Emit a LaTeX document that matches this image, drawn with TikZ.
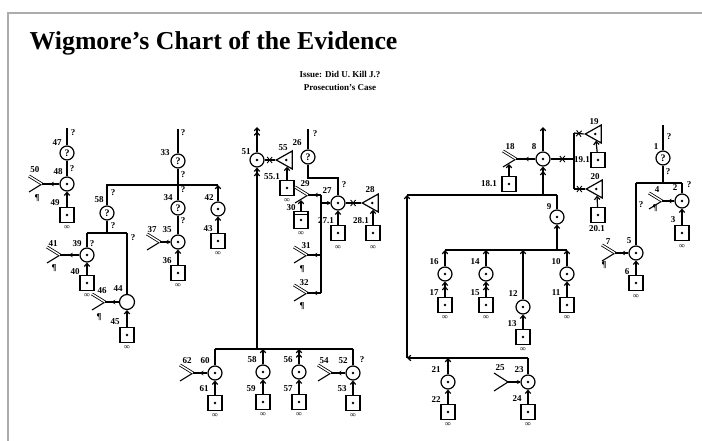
\documentclass[tikz,border=0pt]{standalone}
\usepackage{fontspec}
\setmainfont{Liberation Serif}
\usetikzlibrary{arrows.meta,shapes.geometric,decorations.markings}
\tikzset{
  fork/.pic={\draw[line width=1.1pt] (0,0) -- (-13,8);
             \draw[line width=0.8pt, double distance=1.4pt] (0,0) -- (-13,-8);},
  forkone/.pic={\draw[line width=1.1pt] (0,0) -- (-14,9); \draw[line width=1.1pt] (0,0) -- (-14,-9);},
}
\begin{document}
\begin{tikzpicture}[x=1pt,y=-1pt,line width=1.2pt,
  lab/.style={font=\fontsize{9}{9}\selectfont\bfseries, inner sep=0pt},
  inf/.style={font=\fontsize{8}{8}\selectfont\bfseries, inner sep=0pt},
  pil/.style={font=\fontsize{9}{9}\selectfont\bfseries, inner sep=0pt},
  dc/.style={circle, draw, minimum size=14pt, inner sep=0pt,
    path picture={\fill (path picture bounding box.center) circle[radius=1.4pt];}},
  qc/.style={circle, draw, minimum size=14pt, inner sep=0pt, font=\fontsize{10}{10}\selectfont\bfseries},
  ec/.style={circle, draw, minimum size=15pt, inner sep=0pt},
  sq/.style={rectangle, draw, minimum width=14pt, minimum height=15pt, inner sep=0pt,
    path picture={\fill (path picture bounding box.center) circle[radius=1.4pt];}},
  sqd/.style={rectangle, draw, minimum width=14pt, minimum height=17pt, inner sep=0pt,
    path picture={\fill (path picture bounding box.center) circle[radius=1.4pt];
      \draw ([yshift=-3pt]path picture bounding box.north west) -- ([yshift=-3pt]path picture bounding box.north east);}},
  tri/.style={isosceles triangle, shape border rotate=180, isosceles triangle stretches, draw,
    minimum height=16pt, minimum width=18pt, inner sep=0pt,
    path picture={\fill ([xshift=2pt]path picture bounding box.center) circle[radius=1.4pt];}},
  ar/.style={-{Straight Barb[length=3pt,width=5.5pt]}},
  dar/.style={-{Straight Barb[length=3pt,width=5.5pt]Straight Barb[length=3pt,width=5.5pt]}},
  mid/.style={decoration={markings,mark=at position 0.55 with {\arrow{Stealth[length=4pt,width=4.5pt]}}},postaction={decorate}},
  tipstart/.style={decoration={markings,mark=at position 6pt with {\arrow{Latex[length=4pt,width=4.5pt]}}},postaction={decorate}},
  cross/.style={decoration={markings,mark=at position 0.5 with {\draw[line width=0.9pt] (-2.5pt,-3pt)--(2.5pt,3pt) (-2.5pt,3pt)--(2.5pt,-3pt);}},postaction={decorate}},
]
\useasboundingbox (0,0) rectangle (702,441);
% frame
\coordinate (fr1) at (8,441); \coordinate (fr2) at (8,13); \coordinate (fr3) at (702,13);
\draw[gray!65, line width=1.4pt] (fr1) -- (fr2) -- (fr3);
% titles
\node[anchor=base west, font=\fontsize{25.8}{26}\selectfont\bfseries, inner sep=0pt] (title) at (29,50) {Wigmore’s Chart of the Evidence};
\node[font=\fontsize{9}{9}\selectfont\bfseries, inner sep=0pt] (sub1) at (340,74) {Issue: Did U. Kill J.?};
\node[font=\fontsize{9}{9}\selectfont\bfseries, inner sep=0pt] (sub2) at (340,87) {Prosecution’s Case};

% ===== 47-50
\node[qc] (c47) at (67,153) {?};
\coordinate (t47) at (67,128);
\draw (c47) -- (t47);
\node[dc] (c48) at (67,184) {};
\draw (c47) -- (c48);
\node[sq] (s49) at (67,215) {};
\draw[ar] (s49) -- (c48);
\coordinate (f50) at (42,184); \pic at (f50) {fork};
\draw[mid] (c48) -- (f50);
\node[lab] (l47) at (57,143) {47};
\node[lab] (q47) at (73,133) {?};
\node[lab] (q48) at (72,169) {?};
\node[lab] (l48) at (58,172) {48};
\node[lab] (l50) at (35,170) {50};
\node[pil] (p50) at (37,198) {¶};
\node[lab] (l49) at (55,203) {49};
\node[inf] (i49) at (67,228) {∞};

% ===== 58 / 39-46
\node[qc] (c58) at (107,213) {?};
\coordinate (b1l) at (107,185); \coordinate (b1r) at (218,185); \coordinate (b1m) at (178,185);
\draw (c58) -- (b1l) -- (b1r);
\coordinate (b2m) at (107,233); \coordinate (b2l) at (87,233); \coordinate (b2r) at (127,233);
\draw (c58) -- (b2m); \draw (b2l) -- (b2r);
\node[dc] (c39) at (87,255) {}; \draw (b2l) -- (c39);
\node[sq] (s40) at (87,283) {}; \draw[ar] (s40) -- (c39);
\coordinate (f41) at (60,255); \pic at (f41) {fork}; \draw[mid] (c39) -- (f41);
\node[ec] (c44) at (127,302) {}; \draw (b2r) -- (c44);
\node[sq] (s45) at (127,335) {}; \draw[ar] (s45) -- (c44);
\coordinate (f46) at (105,302); \pic at (f46) {fork}; \draw[mid] (c44) -- (f46);
\node[lab] (l58) at (99,200) {58};
\node[lab] (q58a) at (113,193) {?};
\node[lab] (q58b) at (113,226) {?};
\node[lab] (l39) at (77,244) {39};
\node[lab] (q39) at (92,244) {?};
\node[lab] (q44) at (133,238) {?};
\node[lab] (l41) at (53,244) {41};
\node[pil] (p41) at (54,268) {¶};
\node[lab] (l40) at (75,272) {40};
\node[inf] (i40) at (87,296) {∞};
\node[lab] (l44) at (118,289) {44};
\node[lab] (l46) at (102,291) {46};
\node[pil] (p46) at (99,317) {¶};
\node[lab] (l45) at (115,322) {45};
\node[inf] (i45) at (127,348) {∞};

% ===== 33-37, 42-43
\node[qc] (c33) at (178,161) {?}; \coordinate (t33) at (178,129);
\draw (c33) -- (t33); \draw (c33) -- (b1m);
\node[qc] (c34) at (178,208) {?}; \draw (b1m) -- (c34);
\node[dc] (c35) at (178,242) {}; \draw (c34) -- (c35);
\node[sq] (s36) at (178,273) {}; \draw[ar] (s36) -- (c35);
\coordinate (f37) at (160,242); \pic at (f37) {fork}; \draw[mid] (c35) -- (f37);
\node[dc] (c42) at (218,209) {}; \draw[ar] (c42) -- (b1r);
\node[sq] (s43) at (218,241) {}; \draw[ar] (s43) -- (c42);
\node[lab] (l33) at (165,153) {33};
\node[lab] (q33a) at (183,133) {?};
\node[lab] (q33b) at (183,175) {?};
\node[lab] (q34a) at (183,190) {?};
\node[lab] (l34) at (168,198) {34};
\node[lab] (q34b) at (183,221) {?};
\node[lab] (l35) at (167,230) {35};
\node[lab] (l37) at (152,230) {37};
\node[lab] (l36) at (167,261) {36};
\node[inf] (i36) at (178,286) {∞};
\node[lab] (l42) at (209,198) {42};
\node[lab] (l43) at (208,229) {43};
\node[inf] (i43) at (218,254) {∞};

% ===== 51, 55
\node[dc] (c51) at (257,160) {}; \coordinate (t51) at (257,127);
\draw[dar] (c51) -- (t51);
\coordinate (b3m) at (257,349);
\draw[dar] (b3m) -- (c51);
\node[tri] (t55) at (287,160) {};
\draw[cross] (t55.apex) -- (c51);
\node[sq] (s551) at (287,188) {};
\draw[ar] (s551) -- (t55.south);
\node[lab] (l51) at (246,152) {51};
\node[lab] (l55) at (283,148) {55};
\node[lab] (l551) at (272,177) {55.1};
\node[inf] (i551) at (287,201) {∞};

% ===== 26-32
\node[qc] (c26) at (308,157) {?}; \coordinate (t26) at (308,129);
\draw (c26) -- (t26);
\coordinate (k1) at (308,178); \coordinate (k2) at (338,178);
\node[dc] (c27) at (338,203) {};
\draw (c26) -- (k1) -- (k2) -- (c27);
\coordinate (v1) at (321,195); \coordinate (v2) at (321,203); \coordinate (v3) at (321,255); \coordinate (v4) at (321,293);
\draw (v1) -- (v4);
\draw[tipstart] (c27) -- (v2);
\coordinate (f29) at (308,195); \pic at (f29) {fork}; \draw[mid] (v1) -- (f29);
\node[tri] (t28) at (373,203) {};
\draw[cross] (t28.apex) -- (c27);
\node[sq] (s271) at (338,233) {}; \draw[ar] (s271) -- (c27);
\node[sq] (s281) at (373,233) {}; \draw[ar] (s281) -- (t28.south);
\node[sqd] (s30) at (301,220) {}; \coordinate (a30) at (301,200);
\draw[ar] (s30) -- (a30);
\coordinate (f31) at (307,255); \pic at (f31) {fork}; \draw[mid] (v3) -- (f31);
\coordinate (f32) at (307,293); \pic at (f32) {fork}; \draw[mid] (v4) -- (f32);
\node[lab] (l26) at (297,143) {26};
\node[lab] (q26a) at (315,134) {?};
\node[lab] (q26b) at (344,185) {?};
\node[lab] (l27) at (327,191) {27};
\node[lab] (l29) at (305,184) {29};
\node[lab] (l28) at (370,190) {28};
\node[lab] (l271) at (326,221) {27.1};
\node[inf] (i271) at (338,248) {∞};
\node[lab] (l281) at (361,221) {28.1};
\node[inf] (i281) at (373,248) {∞};
\node[lab] (l30) at (291,208) {30};
\node[inf] (i30) at (301,234) {∞};
\node[lab] (l31) at (306,246) {31};
\node[pil] (p31) at (302,269) {¶};
\node[lab] (l32) at (304,283) {32};
\node[pil] (p32) at (302,306) {¶};

% ===== 52-62 bottom
\coordinate (b3l) at (215,349); \coordinate (b3r) at (353,349);
\coordinate (b358) at (263,349); \coordinate (b356) at (299,349);
\draw (b3l) -- (b3r);
\node[dc] (c60) at (215,373) {}; \draw (c60) -- (b3l);
\coordinate (f62) at (193,373); \pic at (f62) {fork}; \draw[mid] (c60) -- (f62);
\node[sq] (s61) at (215,403) {}; \draw[ar] (s61) -- (c60);
\node[dc] (c58b) at (263,372) {}; \draw[ar] (c58b) -- (b358);
\node[sq] (s59) at (263,402) {}; \draw[ar] (s59) -- (c58b);
\node[dc] (c56) at (299,372) {}; \draw[dar] (c56) -- (b356);
\node[sq] (s57) at (299,402) {}; \draw[ar] (s57) -- (c56);
\node[dc] (c52) at (353,373) {}; \draw (c52) -- (b3r);
\coordinate (f54) at (331,373); \pic at (f54) {fork}; \draw[mid] (c52) -- (f54);
\node[sq] (s53) at (353,403) {}; \draw[ar] (s53) -- (c52);
\node[lab] (l60) at (205,361) {60};
\node[lab] (l62) at (187,361) {62};
\node[lab] (l61) at (204,389) {61};
\node[inf] (i61) at (215,416) {∞};
\node[lab] (l58b) at (252,360) {58};
\node[lab] (l59) at (251,389) {59};
\node[inf] (i59) at (263,415) {∞};
\node[lab] (l56) at (288,360) {56};
\node[lab] (l57) at (288,389) {57};
\node[inf] (i57) at (299,415) {∞};
\node[lab] (l52) at (343,361) {52};
\node[lab] (q52) at (362,360) {?};
\node[lab] (l54) at (324,361) {54};
\node[lab] (l53) at (342,389) {53};
\node[inf] (i53) at (353,416) {∞};

% ===== 8-25
\node[dc] (c8) at (543,159) {}; \coordinate (t8) at (543,127);
\draw[ar] (c8) -- (t8);
\coordinate (f18) at (516,159); \pic at (f18) {fork}; \draw[mid] (c8) -- (f18);
\node[sq] (s181) at (509,184) {}; \coordinate (a181) at (509,164);
\draw[ar] (s181) -- (a181);
\coordinate (b4l) at (407,195); \coordinate (b4r) at (557,195); \coordinate (b48) at (543,195);
\draw (b4l) -- (b4r);
\draw[dar] (b48) -- (c8);
\node[dc] (c9) at (557,217) {}; \draw (c9) -- (b4r);
\coordinate (b5l) at (445,250); \coordinate (b5r) at (567,250);
\coordinate (b59) at (557,250); \coordinate (b514) at (486,250); \coordinate (b512) at (523,250);
\draw (b5l) -- (b5r);
\draw[ar] (b59) -- (c9);
\node[dc] (c16) at (445,274) {}; \draw[ar] (c16) -- (b5l);
\node[sq] (s17) at (445,305) {}; \draw[dar] (s17) -- (c16);
\node[dc] (c14) at (486,274) {}; \draw[ar] (c14) -- (b514);
\node[sq] (s15) at (486,305) {}; \draw[dar] (s15) -- (c14);
\node[dc] (c12) at (523,307) {}; \draw[ar] (c12) -- (b512);
\node[sq] (s13) at (523,337) {}; \draw[ar] (s13) -- (c12);
\node[dc] (c10) at (567,274) {}; \draw[ar] (c10) -- (b5r);
\node[sq] (s11) at (567,305) {}; \draw[ar] (s11) -- (c10);
\coordinate (b6l) at (407,358); \coordinate (b6r) at (528,358); \coordinate (b621) at (448,358);
\draw[ar] (b6r) -- (b6l);
\draw[ar] (b6l) -- (b4l);
\node[dc] (c21) at (448,382) {}; \draw[ar] (c21) -- (b621);
\node[sq] (s22) at (448,412) {}; \draw[ar] (s22) -- (c21);
\node[dc] (c23) at (528,382) {}; \draw (c23) -- (b6r);
\node[sq] (s24) at (528,412) {}; \draw[ar] (s24) -- (c23);
\coordinate (f25) at (508,382); \pic at (f25) {forkone}; \draw[tipstart] (c23) -- (f25);
\node[lab] (l8) at (534,147) {8};
\node[lab] (l18) at (510,147) {18};
\node[lab] (l181) at (489,184) {18.1};
\node[lab] (l9) at (549,207) {9};
\node[lab] (l16) at (434,262) {16};
\node[lab] (l17) at (434,293) {17};
\node[inf] (i17) at (445,318) {∞};
\node[lab] (l14) at (475,262) {14};
\node[lab] (l15) at (475,293) {15};
\node[inf] (i15) at (486,318) {∞};
\node[lab] (l12) at (513,294) {12};
\node[lab] (l13) at (512,324) {13};
\node[inf] (i13) at (523,350) {∞};
\node[lab] (l10) at (556,262) {10};
\node[lab] (l11) at (556,293) {11};
\node[inf] (i11) at (567,318) {∞};
\node[lab] (l21) at (436,370) {21};
\node[lab] (l22) at (436,400) {22};
\node[inf] (i22) at (448,425) {∞};
\node[lab] (l23) at (519,370) {23};
\node[lab] (l25) at (500,368) {25};
\node[lab] (l24) at (517,399) {24};
\node[inf] (i24) at (528,425) {∞};

% ===== 19, 20
\coordinate (v5) at (574,133); \coordinate (v6) at (574,159); \coordinate (v7) at (574,189);
\draw (v5) -- (v7);
\draw[cross] (c8) -- (v6);
\node[tri] (t19) at (596,134) {}; \draw[cross] (v5) -- (t19.apex);
\node[sq] (s191) at (598,160) {}; \draw[ar] (s191) -- (t19.south);
\node[tri] (t20) at (597,189) {}; \draw[cross] (v7) -- (t20.apex);
\node[sq] (s201) at (598,215) {}; \draw[ar] (s201) -- (t20.south);
\node[lab] (l19) at (594,122) {19};
\node[lab] (l191) at (582,160) {19.1};
\node[lab] (l20) at (595,177) {20};
\node[lab] (l201) at (597,229) {20.1};

% ===== 1-7
\node[qc] (c1) at (663,158) {?}; \coordinate (t1) at (663,125);
\draw (c1) -- (t1);
\coordinate (b7l) at (636,183); \coordinate (b7r) at (682,183); \coordinate (b7m) at (663,183);
\draw (c1) -- (b7m); \draw (b7l) -- (b7r);
\node[dc] (c2) at (682,201) {}; \draw (b7r) -- (c2);
\coordinate (f4) at (662,201); \pic at (f4) {fork}; \draw[mid] (c2) -- (f4);
\node[sq] (s3) at (682,233) {}; \draw[ar] (s3) -- (c2);
\node[dc] (c5) at (636,253) {}; \draw (b7l) -- (c5);
\coordinate (f7) at (615,253); \pic at (f7) {fork}; \draw[mid] (c5) -- (f7);
\node[sq] (s6) at (636,283) {}; \draw[ar] (s6) -- (c5);
\node[lab] (l1) at (656,147) {1};
\node[lab] (q1a) at (669,137) {?};
\node[lab] (q1b) at (668,172) {?};
\node[lab] (l2) at (675,188) {2};
\node[lab] (q2) at (689,185) {?};
\node[lab] (l4) at (657,190) {4};
\node[pil] (p4) at (655,208) {¶};
\node[lab] (l3) at (673,220) {3};
\node[inf] (i3) at (682,247) {∞};
\node[lab] (q5) at (641,205) {?};
\node[lab] (l5) at (629,241) {5};
\node[lab] (l7) at (608,242) {7};
\node[pil] (p7) at (604,265) {¶};
\node[lab] (l6) at (627,272) {6};
\node[inf] (i6) at (636,297) {∞};
\end{tikzpicture}
\end{document}
